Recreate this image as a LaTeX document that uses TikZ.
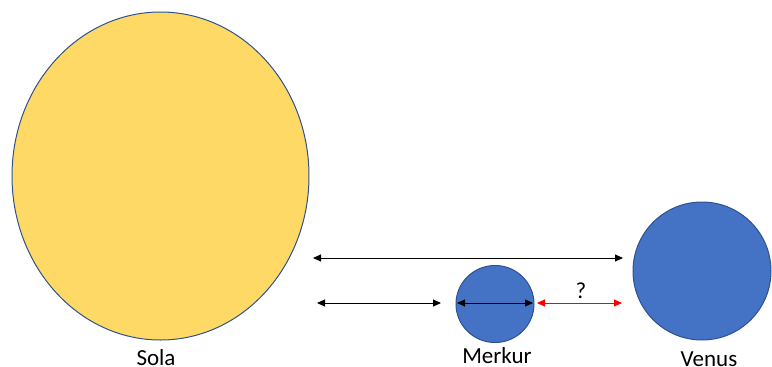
\documentclass[tikz,border=0pt]{standalone}
\usepackage{fontspec}
\setmainfont{Carlito}
\usetikzlibrary{arrows.meta,shapes.geometric}
\definecolor{sunfill}{HTML}{FFD966}
\definecolor{planetfill}{HTML}{4472C4}
\definecolor{rim}{HTML}{2F528F}
\begin{document}
\begin{tikzpicture}[x=1pt,y=-1pt,
  body/.style={ellipse,draw=rim,line width=1pt,inner sep=0pt},
  label/.style={font=\fontsize{23}{27}\selectfont,inner sep=0pt,anchor=base},
  span/.style={line width=0.9pt,{Triangle[length=8pt,width=7pt]}-{Triangle[length=8pt,width=7pt]}}]
  \useasboundingbox (0,0) rectangle (772,367);
  % bodies
  \node[body,fill=sunfill,minimum width=297pt,minimum height=328pt] (sun) at (160.5,176) {};
  \node[body,fill=planetfill,minimum width=78pt,minimum height=77pt] (mercury) at (495,304) {};
  \node[body,fill=planetfill,minimum width=138pt,minimum height=138pt] (venus) at (702,271) {};
  % names
  \node[label] (lsun) at (156,365) {Sola};
  \node[label] (lmer) at (497,363) {Merkur};
  \node[label] (lven) at (709,366) {Venus};
  % distance markers
  \coordinate (a1) at (313,258);
  \coordinate (a2) at (623,258);
  \coordinate (b1) at (317,303);
  \coordinate (b2) at (441,303);
  \coordinate (c1) at (457,303);
  \coordinate (c2) at (533,303);
  \coordinate (d1) at (537,303);
  \coordinate (d2) at (622,303);
  \draw[span] (a1) -- (a2);
  \draw[span] (b1) -- (b2);
  \draw[span] (c1) -- (c2);
  \draw[span,red] (d1) -- (d2);
  \node[label] (q) at (581,298) {?};
\end{tikzpicture}
\end{document}
